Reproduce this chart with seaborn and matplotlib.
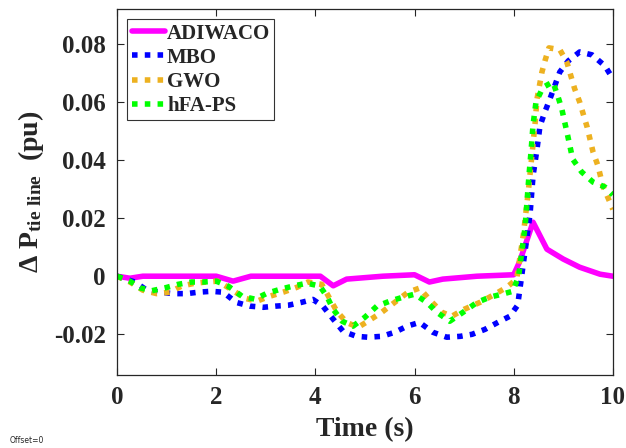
import numpy as np
import matplotlib
matplotlib.use('Agg')
import matplotlib.pyplot as plt
import seaborn as sns

# values
t_adiwaco = [0, 0.26, 0.52, 1.0, 2.0, 2.34, 2.7, 3.5, 4.1, 4.36, 4.63, 5.36, 6.0, 6.3,
             6.57, 7.26, 8.0, 8.12, 8.39, 8.67, 9.0, 9.33, 9.74, 10]
adiwaco = [0, -0.0007, 0, 0, 0, -0.0017, 0, 0, 0, -0.0033, -0.001, 0, 0.0005, -0.002,
           -0.001, 0, 0.0005, 0.005, 0.0186, 0.0093, 0.0059, 0.0031, 0.0007, 0]

t_mbo = [0, 0.36, 0.6, 0.87, 1.13, 1.4, 1.64, 1.9, 2.14, 2.4, 2.68, 2.95, 3.2, 3.45, 3.72,
         3.95, 4.15, 4.36, 4.56, 4.83, 5.06, 5.34, 5.6, 5.85, 6.1, 6.37, 6.65, 6.92, 7.16,
         7.42, 7.68, 7.92, 8.08, 8.2, 8.33, 8.39, 8.47, 8.53, 8.63, 8.73, 8.93, 9.1, 9.33,
         9.58, 9.84, 10]
mbo = [0, -0.002, -0.0048, -0.0055, -0.006, -0.006, -0.0055, -0.0052, -0.0055, -0.009,
       -0.0103, -0.0107, -0.0103, -0.01, -0.009, -0.008, -0.0103, -0.0148, -0.019, -0.0207,
       -0.021, -0.0207, -0.0193, -0.0172, -0.0159, -0.0193, -0.021, -0.0207, -0.02, -0.0183,
       -0.0159, -0.0138, -0.01, 0.005, 0.0214, 0.0345, 0.0438, 0.0517, 0.0566, 0.061,
       0.0703, 0.0741, 0.0772, 0.0762, 0.0724, 0.068]

t_gwo = [0, 0.26, 0.52, 0.8, 1.07, 1.3, 1.57, 1.8, 2.03, 2.3, 2.58, 2.82, 3.08, 3.35, 3.63,
         3.85, 4.13, 4.43, 4.63, 4.86, 5.06, 5.34, 5.6, 5.87, 6.1, 6.3, 6.55, 6.75, 7.0,
         7.32, 7.62, 7.86, 8.06, 8.2, 8.3, 8.43, 8.47, 8.57, 8.63, 8.71, 8.93, 9.07, 9.23,
         9.33, 9.48, 9.6, 9.7, 9.8, 9.94, 10]
gwo = [0, -0.002, -0.0048, -0.006, -0.0055, -0.0034, -0.0024, -0.002, -0.0017, -0.0045,
       -0.0076, -0.0086, -0.0069, -0.0055, -0.0038, -0.002, -0.0028, -0.012, -0.0159,
       -0.0176, -0.0155, -0.0124, -0.009, -0.0055, -0.0041, -0.008, -0.0124, -0.0138,
       -0.0114, -0.009, -0.0062, -0.0038, -0.001, 0.015, 0.03, 0.0524, 0.061, 0.0703,
       0.0741, 0.0786, 0.078, 0.0738, 0.0645, 0.06, 0.0514, 0.0428, 0.038, 0.031, 0.0255,
       0.023]

t_hfa = [0, 0.26, 0.46, 0.7, 0.97, 1.23, 1.5, 1.73, 2.0, 2.24, 2.52, 2.78, 3.02, 3.29, 3.55,
         3.83, 4.09, 4.23, 4.36, 4.54, 4.76, 5.0, 5.24, 5.5, 5.77, 6.0, 6.25, 6.45, 6.71,
         6.98, 7.26, 7.52, 7.76, 7.98, 8.1, 8.23, 8.27, 8.31, 8.35, 8.39, 8.45, 8.59, 8.79,
         8.89, 8.97, 9.09, 9.19, 9.37, 9.6, 9.84, 10]
hfa = [0, -0.0017, -0.004, -0.005, -0.004, -0.0028, -0.002, -0.002, -0.0017, -0.0034,
       -0.0069, -0.0079, -0.0059, -0.0045, -0.0034, -0.0024, -0.0034, -0.0069, -0.0114,
       -0.0155, -0.0172, -0.0141, -0.0103, -0.0086, -0.0072, -0.0062, -0.009, -0.0124,
       -0.0155, -0.0124, -0.009, -0.0072, -0.0062, -0.0052, 0.0, 0.017, 0.026, 0.035,
       0.043, 0.052, 0.060, 0.065, 0.0669, 0.062, 0.0576, 0.0483, 0.0403, 0.0359, 0.0324,
       0.0307, 0.028]

x_ticks = [0, 2, 4, 6, 8, 10]
x_labels = ['0', '2', '4', '6', '8', '10']
y_ticks = [-0.02, 0, 0.02, 0.04, 0.06, 0.08]
y_labels = ['-0.02', '0', '0.02', '0.04', '0.06', '0.08']

sns.set_style('ticks')
plt.rcParams['font.family'] = ['Liberation Serif', 'DejaVu Serif']
plt.rcParams['font.weight'] = 'bold'
plt.rcParams['mathtext.fontset'] = 'custom'
plt.rcParams['mathtext.rm'] = 'Liberation Serif:bold'
plt.rcParams['mathtext.it'] = 'Liberation Serif:bold'
plt.rcParams['mathtext.bf'] = 'Liberation Serif:bold'

fig = plt.figure(figsize=(6.26, 4.48), dpi=100)
ax = fig.add_axes([0.187, 0.163, 0.792, 0.817])

dot = (0, (1.0, 1.3))
lw = 4.0
sns.lineplot(x=t_adiwaco, y=adiwaco, color='#FF00FF', linewidth=lw, label='ADIWACO', ax=ax)
sns.lineplot(x=t_mbo, y=mbo, color='#0000FF', linewidth=lw, linestyle=dot,
             dash_capstyle='butt', label='MBO', ax=ax)
sns.lineplot(x=t_gwo, y=gwo, color='#EDB120', linewidth=lw, linestyle=dot,
             dash_capstyle='butt', label='GWO', ax=ax)
sns.lineplot(x=t_hfa, y=hfa, color='#00FF00', linewidth=lw, linestyle=dot,
             dash_capstyle='butt', label='hFA-PS', ax=ax)

ax.set_xlim(0, 10)
ax.set_ylim(-0.034, 0.092)
ax.set_xticks(x_ticks)
ax.set_xticklabels(x_labels)
ax.set_yticks(y_ticks)
ax.set_yticklabels(y_labels)
ax.tick_params(direction='in', length=5, width=0.8, labelsize=18, pad=8,
               top=True, right=True, colors='#262626')
for lab in ax.get_xticklabels() + ax.get_yticklabels():
    lab.set_fontweight('bold')
for sp in ax.spines.values():
    sp.set_visible(True)
    sp.set_color('#262626')
    sp.set_linewidth(0.9)

ax.set_xlabel('Time (s)', fontsize=20, fontweight='bold', labelpad=6)
ax.set_ylabel(r'$\Delta$ P$_{\rm tie\ line}$  (pu)', fontsize=20, fontweight='bold',
              labelpad=6)

leg = ax.legend(loc='upper left', fontsize=15, frameon=True, fancybox=False,
                handlelength=1.6, handletextpad=0.1, labelspacing=0.2,
                borderpad=0.2, borderaxespad=0.5, edgecolor='black')
leg.get_frame().set_linewidth(0.8)
for txt in leg.get_texts():
    txt.set_fontweight('bold')

fig.text(0.016, 0.012, 'Offset=0', fontsize=5.5, family='DejaVu Sans', fontweight='normal')

fig.savefig('out.png', dpi=100)
